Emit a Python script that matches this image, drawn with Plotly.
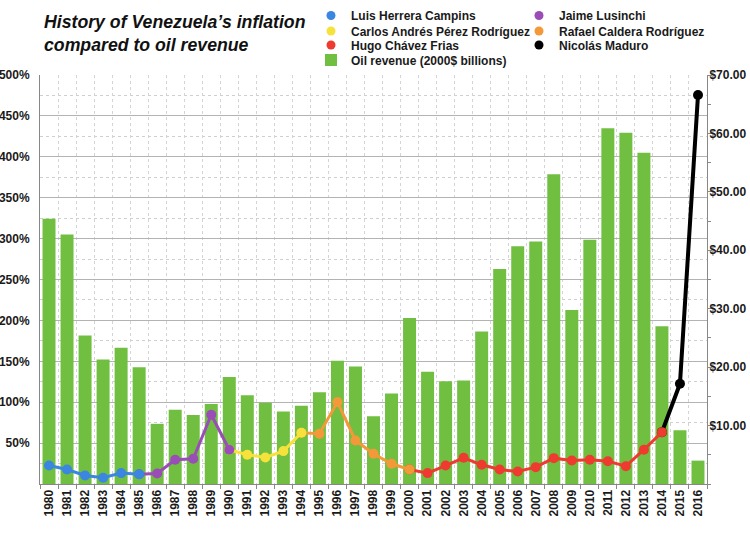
import plotly.graph_objects as go

# ---------------- data ----------------
years = [str(y) for y in range(1980, 2017)]

inflation_pct = [22.6, 17.7, 10.4, 7.6, 13.3, 12.0, 12.9, 29.6, 30.8, 84.7,
                 41.9, 35.7, 32.4, 40.2, 62.6, 61.4, 100.1, 53.2, 36.9, 24.7,
                 17.7, 13.3, 22.6, 32.0, 23.5, 17.7, 15.3, 20.6, 31.6, 28.8,
                 29.6, 27.9, 21.8, 41.9, 63.4, 122.6, 475.5]

oil_revenue_bn = [45.4, 42.7, 25.4, 21.3, 23.3, 20.0, 10.3, 12.7, 11.8, 13.7,
                  18.3, 15.2, 13.9, 12.4, 13.4, 15.7, 21.1, 20.1, 11.6, 15.5,
                  28.4, 19.2, 17.6, 17.7, 26.1, 36.8, 40.7, 41.5, 53.0, 29.8,
                  41.8, 60.9, 60.1, 56.7, 27.0, 9.2, 4.0]

oil_name = "Oil revenue (2000$ billions)"
president_names = ["Luis Herrera Campins", "Jaime Lusinchi",
                   "Carlos Andrés Pérez Rodríguez", "Rafael Caldera Rodríguez",
                   "Hugo Chávez Frias", "Nicolás Maduro"]
term_start = ["1980", "1985", "1990", "1994", "2000", "2014"]
term_end = ["1985", "1990", "1994", "2000", "2014", "2016"]

pct_ticks = [50, 100, 150, 200, 250, 300, 350, 400, 450, 500]
usd_ticks = [10, 20, 30, 40, 50, 60, 70]

# ---------------- style ----------------
colors = {
    "Luis Herrera Campins": "#3A86E0",
    "Jaime Lusinchi": "#9A4DB6",
    "Carlos Andrés Pérez Rodríguez": "#F6E23A",
    "Rafael Caldera Rodríguez": "#F4993A",
    "Hugo Chávez Frias": "#EF3A30",
    "Nicolás Maduro": "#000000",
}
GREEN = "#70BF41"
FONT = "Liberation Sans, Arial, sans-serif"
bold12 = dict(family=FONT, size=12, color="#1a1a1a", weight="bold")

W, H = 750, 536
L, R, T, B = 40, 43, 75, 52
COL_X = [311, 519]                 # legend column left edges (px)
ROW_TOP = [1, 16.5, 30.5, 45.5]    # legend row top edges (px)
# (legend id, column, row) for each entry, two-column layout as in the reference
legend_slot = {
    "Luis Herrera Campins": ("legend", 0, 0),
    "Carlos Andrés Pérez Rodríguez": ("legend2", 0, 1),
    "Hugo Chávez Frias": ("legend3", 0, 2),
    oil_name: ("legend4", 0, 3),
    "Jaime Lusinchi": ("legend5", 1, 0),
    "Rafael Caldera Rodríguez": ("legend6", 1, 1),
    "Nicolás Maduro": ("legend7", 1, 2),
}

fig = go.Figure()

# Oil revenue bars (right axis, primary y so that lines sit on top)
fig.add_trace(go.Bar(
    x=years, y=oil_revenue_bn, name=oil_name,
    marker=dict(color=GREEN, line=dict(width=0)),
    yaxis="y", legend=legend_slot[oil_name][0],
))

# Inflation lines per president, drawn in reverse so earlier dots sit on top
for name, s, e in reversed(list(zip(president_names, term_start, term_end))):
    i0, i1 = years.index(s), years.index(e)
    lw = 4 if name == "Nicolás Maduro" else 3
    fig.add_trace(go.Scatter(
        x=years[i0:i1 + 1], y=inflation_pct[i0:i1 + 1], mode="lines+markers",
        line=dict(color=colors[name], width=lw),
        marker=dict(color=colors[name], size=10),
        yaxis="y2", showlegend=False, name=name,
    ))

# Legend entries (marker only, like the reference)
for name in president_names:
    fig.add_trace(go.Scatter(
        x=[None], y=[None], mode="markers", name=name,
        marker=dict(color=colors[name], size=9),
        yaxis="y2", legend=legend_slot[name][0], showlegend=True,
    ))

legends = {}
for name, (lid, col, row) in legend_slot.items():
    legends[lid] = dict(
        xref="container", yref="container",
        x=COL_X[col] / W, y=1 - ROW_TOP[row] / H,
        xanchor="left", yanchor="top",
        font=bold12, bgcolor="rgba(0,0,0,0)", borderwidth=0,
        tracegroupgap=0, itemwidth=30, orientation="v",
    )

fig.update_layout(
    width=W, height=H,
    margin=dict(l=L, r=R, t=T, b=B, pad=0, autoexpand=False),
    paper_bgcolor="white", plot_bgcolor="white",
    bargap=0.28,
    font=dict(family=FONT, size=12, color="#1a1a1a"),
    xaxis=dict(
        type="category", tickson="boundaries", showgrid=True,
        gridcolor="#d4d4d4", griddash="dot", gridwidth=1,
        ticks="outside", ticklen=4, tickcolor="#888",
        showline=True, linecolor="#888", linewidth=1,
        tickangle=-90, tickfont=bold12, range=[-0.5, 36.5],
        automargin=False,
    ),
    yaxis=dict(
        side="right", range=[0, 70], tickvals=usd_ticks,
        ticktext=[f"${v:.2f}" for v in usd_ticks],
        showgrid=False, zeroline=False,
        ticks="outside", ticklen=4, tickcolor="#888",
        minor=dict(dtick=5, ticks="outside", ticklen=3, tickcolor="#888", showgrid=False),
        showline=True, linecolor="#888", linewidth=1,
        tickfont=bold12, ticklabelstandoff=-5, automargin=False,
    ),
    yaxis2=dict(
        side="left", overlaying="y", range=[0, 500],
        tickvals=pct_ticks, ticktext=[f"{v}%" for v in pct_ticks],
        showgrid=True, gridcolor="#b3b3b3", gridwidth=1, zeroline=False,
        minor=dict(tickvals=[v - 25 for v in pct_ticks], showgrid=True,
                   gridcolor="#cfcfcf", griddash="dot", ticks=""),
        showline=True, linecolor="#888", linewidth=1,
        ticks="", tickfont=bold12, ticklabelstandoff=7, automargin=False,
    ),
    annotations=[dict(
        text="<b><i>History of Venezuela’s inflation<br>compared to oil revenue</i></b>",
        xref="paper", yref="paper", x=(42 - L) / (W - L - R),
        y=1 + (75 - 34) / (H - T - B),
        xanchor="left", yanchor="middle", align="left", showarrow=False,
        font=dict(family=FONT, size=17.7, color="#111"),
    )],
    **legends,
)

fig.write_html("out.html")
